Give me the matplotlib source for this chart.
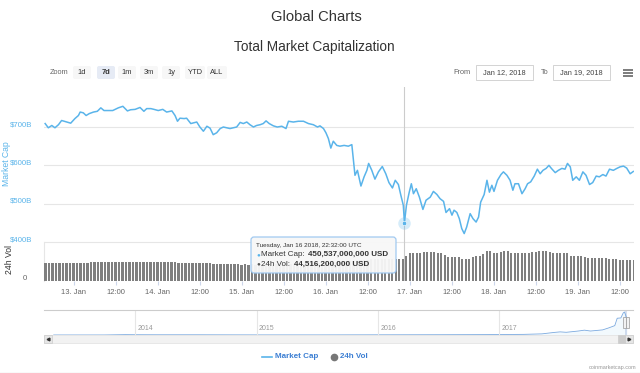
import matplotlib.pyplot as plt
from matplotlib.patches import FancyBboxPatch, Rectangle
import matplotlib.transforms as mtransforms

plt.rcParams['font.family'] = ['Liberation Sans', 'DejaVu Sans']

# ---- data (hours counted from Jan 12 2018 00:00 UTC, values in $B) ----
hours = [15.9, 16.8, 17.8, 18.7, 19.7, 20.6, 22.1, 23.2, 24.4, 25.4, 25.9, 26.8, 27.6, 28.5,
         29.7, 30.8, 31.8, 32.7, 33.9, 35.2, 36.8, 38.1, 39.4, 40.3, 41.6, 43.0, 44.1, 44.9,
         46.1, 47.0, 48.2, 49.5, 50.6, 52.1, 53.0, 53.7, 54.4, 55.6, 56.3, 57.5, 58.4, 59.2,
         60.1, 61.1, 62.1, 63.0, 63.9, 64.9, 65.9, 66.8, 67.8, 68.7, 69.7, 70.6, 71.6, 72.5,
         73.5, 74.4, 75.4, 76.3, 77.3, 78.2, 79.0, 79.9, 81.1, 82.2, 83.5, 84.7, 85.4, 86.8,
         88.2, 89.7, 91.1, 92.5, 93.7, 94.4, 95.4, 96.1, 96.8, 97.5, 98.2, 99.2, 100.1, 101.3,
         102.5, 103.5, 103.9, 104.4, 105.1, 106.1, 107.0, 107.8, 108.3, 109.2, 110.1, 111.1,
         112.2, 113.2, 114.1, 115.1, 115.9, 116.8, 117.5, 118.2, 118.53, 119.1, 119.9, 120.5,
         121.1, 121.9, 122.8, 123.8, 124.7, 125.9, 126.8, 127.8, 128.7, 129.7, 130.4, 131.4,
         132.1, 132.7, 133.5, 134.2, 134.9, 135.6, 136.3, 137.3, 138.1, 139.0, 139.7, 140.3,
         141.3, 142.1, 142.8, 143.5, 144.1, 145.1, 146.1, 146.8, 147.8, 148.7, 149.5, 150.1,
         151.1, 152.1, 153.0, 153.7, 154.6, 155.6, 156.5, 157.3, 158.1, 159.0, 159.8, 160.5,
         161.6, 162.5, 163.5, 164.4, 165.1, 165.9, 166.6, 167.6, 168.5, 169.5, 170.4, 171.4,
         172.3, 173.3, 174.2, 175.2, 176.1, 177.1, 178.2, 179.2, 180.1, 181.1, 182.0, 183.0,
         183.9]
mcap = [709, 698, 704, 698, 706, 717, 713, 710, 722, 730, 739, 737, 730, 735,
        739, 741, 750, 743, 743, 743, 750, 754, 742, 745, 746, 751, 741, 748,
        748, 746, 743, 746, 739, 742, 730, 715, 723, 722, 723, 709, 711, 713,
        700, 689, 702, 697, 680, 685, 696, 700, 698, 696, 698, 700, 712, 709,
        713, 706, 700, 704, 706, 709, 716, 709, 703, 700, 702, 696, 715, 713,
        715, 715, 709, 706, 700, 703, 696, 685, 670, 645, 663, 652, 650, 652,
        650, 654, 618, 574, 587, 546, 570, 587, 605, 587, 564, 583,
        597, 578, 555, 541, 561, 550, 522, 496, 450.537, 496, 530, 552,
        526, 539, 517, 485, 509, 517, 532, 524, 513, 506, 477, 487,
        470, 483, 477, 461, 435, 422, 439, 474, 461, 452, 465, 504,
        524, 561, 530, 548, 532, 561, 576, 583, 574, 561, 535, 552,
        552, 526, 539, 552, 557, 572, 590, 578, 587, 592, 600, 592,
        581, 587, 592, 590, 605, 596, 561, 570, 561, 583, 574, 550,
        555, 572, 570, 576, 572, 590, 587, 592, 596, 598, 593, 578,
        584]

# hourly 24h volume ($B), first bar at hour 16
vol_first_hour = 16
vol = [37.5, 37.8, 37.6, 37.9, 37.7, 37.4, 37.6, 37.8,
       37.7, 37.5, 37.9, 37.6, 37.8, 38.0, 38.3, 38.6, 38.5, 38.4, 38.7, 38.5,
       38.6, 38.4, 38.5, 38.7, 38.6, 38.4, 38.9, 39.2, 39.5, 39.4, 39.6, 39.3,
       39.5, 39.7, 39.4, 39.6, 39.2, 38.2, 37.5, 37.2, 37.0, 37.3, 36.9, 37.1,
       36.8, 36.4, 36.2, 36.5, 35.2, 34.8, 34.6, 34.9, 34.4, 34.2, 34.5, 34.0,
       33.8, 34.1, 33.6, 33.9, 33.5, 33.7, 33.4, 33.8, 33.6, 33.5, 33.9, 34.2,
       34.6, 34.4, 34.8, 35.0, 35.3, 35.1, 35.6, 35.9, 36.2, 36.0, 36.5, 36.8,
       37.0, 37.4, 37.8, 38.1, 38.6, 39.2, 40.1, 41.0, 41.8, 42.5, 43.0, 43.4,
       43.8, 44.2, 44.6, 45.0, 45.3, 45.6, 45.8, 45.5, 45.2, 44.9, 44.5, 52.0,
       56.5, 57.4, 57.9, 58.2, 58.6, 58.9, 59.1, 58.7, 58.3, 57.6, 54.0, 50.2,
       49.4, 49.0, 48.6, 46.0, 44.8, 45.2, 50.1, 51.5, 51.0, 56.4, 62.5, 60.8,
       57.6, 57.2, 58.9, 60.8, 61.2, 58.0, 57.5, 57.8, 57.3, 57.6, 58.2, 58.5,
       59.6, 61.3, 61.8, 61.4, 60.2, 57.6, 57.3, 57.8, 57.5, 57.2, 52.0, 50.6,
       50.4, 50.8, 50.1, 47.6, 46.8, 46.5, 46.9, 46.3, 46.6, 46.0, 45.2, 44.5,
       44.0, 43.8, 43.5, 43.2, 42.8]
vol_hours = list(range(vol_first_hour, vol_first_hour + len(vol)))

day_ticks = [24, 36, 48, 60, 72, 84, 96, 108, 120, 132, 144, 156, 168, 180]
day_labels = ['13. Jan', '12:00', '14. Jan', '12:00', '15. Jan', '12:00', '16. Jan',
              '12:00', '17. Jan', '12:00', '18. Jan', '12:00', '19. Jan', '12:00']
cap_ticks = [400, 500, 600, 700]
cap_labels = ['$400B', '$500B', '$600B', '$700B']

# navigator: full history of total market cap ($B) by fractional year
nav_year = [2013.33, 2013.5, 2013.75, 2013.92, 2014.0, 2014.17, 2014.5, 2014.75, 2015.0,
            2015.5, 2016.0, 2016.5, 2016.9, 2017.0, 2017.2, 2017.35, 2017.45, 2017.5,
            2017.55, 2017.65, 2017.7, 2017.75, 2017.85, 2017.9, 2017.95, 2017.97, 2018.0,
            2018.02, 2018.03, 2018.05]
nav_cap = [1.5, 1.2, 1.6, 13, 10, 8, 8, 5.5, 4, 3.8, 7, 10, 14, 17.7, 22, 40, 90, 110,
           95, 140, 170, 140, 180, 250, 330, 590, 600, 780, 810, 570]
nav_year_ticks = [2014, 2015, 2016, 2017]

hover_hour = 118.53
hover_cap = 450.537

BLUE = '#5ab4ea'
W, H = 640, 373


def rect(x0, y0, x1, y1):
    return [x0 / W, 1 - y1 / H, (x1 - x0) / W, (y1 - y0) / H]


fig = plt.figure(figsize=(6.4, 3.73), dpi=100)
ax = fig.add_axes(rect(44, 87, 634, 242))
axv = fig.add_axes(rect(44, 242, 634, 281), sharex=ax)
axn = fig.add_axes(rect(44, 310, 633, 335))
ui = fig.add_axes([0, 0, 1, 1], zorder=10)
ui.set_xlim(0, W)
ui.set_ylim(H, 0)
ui.axis('off')

# ---- main price panel ----
ax.plot(hours, mcap, color=BLUE, lw=1.1, solid_joinstyle='round', zorder=3)
ax.set_xlim(15.57, 184.1)
ax.set_ylim(400, 400 + (242 - 87) / 38.33 * 100)
ax.set_yticks(cap_ticks)
ax.set_yticklabels(cap_labels)
ax.grid(axis='y', color='#e6e6e6', lw=0.8)
ax.set_axisbelow(True)
for s in ax.spines.values():
    s.set_visible(False)
ax.tick_params(axis='x', bottom=False, labelbottom=False)
ax.tick_params(axis='y', left=False, labelsize=5.6, labelcolor=BLUE, pad=5)
up = mtransforms.ScaledTranslation(0, 3.5 / 100, fig.dpi_scale_trans)
for lab in ax.get_yticklabels():
    lab.set_transform(lab.get_transform() + up)
ax.axvline(hover_hour, color='#cccccc', lw=0.8, zorder=2)
ax.plot(hover_hour, hover_cap, 'o', ms=9, color=BLUE, alpha=0.25, mec='none', zorder=4)
ax.plot(hover_hour, hover_cap, 'o', ms=3.2, color=BLUE, mec='white', mew=0.4, zorder=5)

# ---- volume panel ----
axv.bar(vol_hours, vol, width=0.62, color='#7f7f7f', lw=0, zorder=3)
axv.set_ylim(0, 80)
axv.set_yticks([0])
axv.set_yticklabels(['0'])
axv.axhline(80, color='#e6e6e6', lw=0.8)
for k in ['top', 'right', 'bottom']:
    axv.spines[k].set_visible(False)
axv.spines['left'].set_color('#e6e6e6')
axv.spines['left'].set_linewidth(0.8)
axv.tick_params(axis='y', left=False, labelsize=5.6, labelcolor='#666666', pad=9)
for lab in axv.get_yticklabels():
    lab.set_transform(lab.get_transform() + up)
axv.set_xticks(day_ticks)
axv.set_xticklabels(day_labels)
axv.tick_params(axis='x', length=3, width=0.8, color='#ccd6eb', labelsize=5.5,
                labelcolor='#666666', pad=3)
axv.axvline(hover_hour, color='#cccccc', lw=0.8, zorder=2)

# axis titles
ui.text(7, 164, 'Market Cap', rotation=90, color=BLUE, fontsize=6.2, ha='center', va='center')
ui.text(10, 259, '24h Vol', rotation=90, color='#333333', fontsize=6.2, ha='center', va='center')

# ---- navigator ----
axn.fill_between(nav_year, nav_cap, color=BLUE, alpha=0.08, lw=0)
axn.plot(nav_year, nav_cap, color='#7aa9df', lw=0.6)
axn.set_xlim(2013.25, 2018.1)
axn.set_ylim(0, 880)
axn.set_xticks([])
axn.set_yticks([])
for k in ['left', 'right', 'bottom']:
    axn.spines[k].set_visible(False)
axn.spines['top'].set_color('#cccccc')
axn.spines['top'].set_linewidth(0.8)
for yr in nav_year_ticks:
    axn.axvline(yr, color='#e6e6e6', lw=0.8)
    axn.text(yr + 0.02, 0.12, str(yr), transform=axn.get_xaxis_transform(),
             fontsize=5, color='#999999', va='bottom', ha='left')
axn.axvspan(2018.032, 2018.052, color='#6685c2', alpha=0.25, lw=0)
for xh in [2018.032, 2018.052]:
    axn.add_patch(Rectangle((xh - 0.012, 0.3), 0.024, 0.42, transform=axn.get_xaxis_transform(),
                            fc='#f2f2f2', ec='#999999', lw=0.5, zorder=5))

# ---- scrollbar ----
ui.add_patch(Rectangle((44, 335), 589, 8, fc='#f2f2f2', ec='#e0e0e0', lw=0.5))
ui.add_patch(Rectangle((44, 335), 8, 8, fc='#e6e6e6', ec='#cccccc', lw=0.5))
ui.add_patch(Rectangle((625, 335), 8, 8, fc='#e6e6e6', ec='#cccccc', lw=0.5))
ui.add_patch(Rectangle((618, 335), 7, 8, fc='#cccccc', ec='#cccccc', lw=0.5))
ui.plot(48, 339, marker='<', ms=2, color='#333333')
ui.plot(629, 339, marker='>', ms=2, color='#333333')

# ---- titles ----
ui.text(316, 17, 'Global Charts', ha='center', va='center', fontsize=10.6, color='#333333')
ui.text(314, 47, 'Total Market Capitalization', ha='center', va='center', fontsize=9.8,
        color='#333333')

# ---- range selector ----
ui.text(50, 72.5, 'Zoom', fontsize=5.3, color='#666666', va='center', ha='left')
buttons = [('1d', 82), ('7d', 106), ('1m', 127), ('3m', 149), ('1y', 171), ('YTD', 195), ('ALL', 217)]
for name, cx in buttons:
    sel = name == '7d'
    w = 20 if len(name) == 3 else 18
    ui.add_patch(FancyBboxPatch((cx - w / 2, 66), w, 13, boxstyle='round,pad=0,rounding_size=2',
                                fc='#e6ebf5' if sel else '#f7f7f7', ec='none'))
    ui.text(cx, 72.5, name, ha='center', va='center', fontsize=5.4, color='#333333',
            fontweight='bold' if sel else 'normal')
ui.text(471, 72.5, 'From', fontsize=5.3, color='#666666', va='center', ha='right')
ui.add_patch(Rectangle((476, 65), 57, 15, fc='white', ec='#cccccc', lw=0.6))
ui.text(504.5, 72.5, 'Jan 12, 2018', fontsize=5.3, color='#444444', va='center', ha='center')
ui.text(548, 72.5, 'To', fontsize=5.3, color='#666666', va='center', ha='right')
ui.add_patch(Rectangle((553, 65), 57, 15, fc='white', ec='#cccccc', lw=0.6))
ui.text(581.5, 72.5, 'Jan 19, 2018', fontsize=5.3, color='#444444', va='center', ha='center')
for yy in [69.5, 72.5, 75.5]:
    ui.plot([622.5, 632.5], [yy, yy], color='#666666', lw=1.2, solid_capstyle='butt')

# ---- tooltip ----
ui.add_patch(FancyBboxPatch((251, 237), 145, 36, boxstyle='round,pad=0,rounding_size=3',
                            fc='#f7f7f7', ec='#9cc7f0', lw=0.9, alpha=0.95))
ui.text(256, 245, 'Tuesday, Jan 16 2018, 22:32:00 UTC', fontsize=4.6, color='#333333',
        va='center', ha='left')
ui.text(256, 254.5, '\u25cf', fontsize=4.5, color=BLUE, va='center', ha='left')
ui.text(261, 254.5, 'Market Cap:', fontsize=5.8, color='#333333', va='center', ha='left')
ui.text(307.5, 254.5, '450,537,000,000 USD', fontsize=5.8, color='#333333', va='center',
        ha='left', fontweight='bold')
ui.text(256, 264, '\u25cf', fontsize=4.5, color='#555555', va='center', ha='left')
ui.text(261, 264, '24h Vol:', fontsize=5.8, color='#333333', va='center', ha='left')
ui.text(294.5, 264, '44,516,200,000 USD', fontsize=5.8, color='#333333', va='center',
        ha='left', fontweight='bold')

# ---- legend ----
ui.plot([262, 272], [357, 357], color=BLUE, lw=1.2)
ui.text(275, 357, 'Market Cap', fontsize=5.8, color='#3c7fd3', fontweight='bold', va='center')
ui.plot(334, 357, 'o', ms=4.5, color='#777777')
ui.text(340, 357, '24h Vol', fontsize=5.8, color='#3c7fd3', fontweight='bold', va='center')
ui.text(636, 368, 'coinmarketcap.com', fontsize=4, color='#999999', ha='right', va='center')
ui.plot([0, 640], [372.5, 372.5], color='#999999', lw=0.8)

fig.savefig('out.png', dpi=100)
